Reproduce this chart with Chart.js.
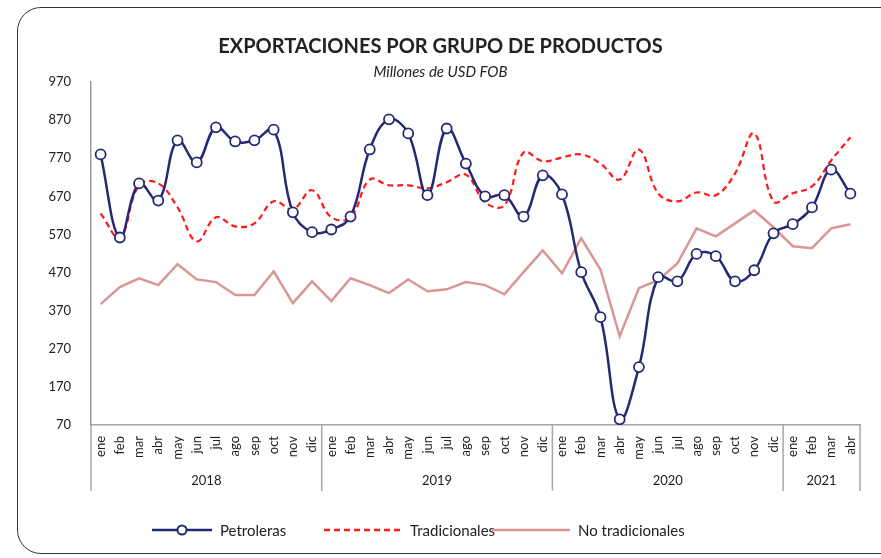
<!DOCTYPE html>
<html>
<head>
<meta charset="utf-8">
<script src="https://cdn.jsdelivr.net/npm/chart.js@4/dist/chart.umd.min.js"></script>
<style>
  body { margin: 0; background: #fff; font-family: Lato, "Open Sans", sans-serif; }
  #wrap { position: relative; width: 881px; height: 558px; overflow: hidden; }
  #frame { position: absolute; left: 17px; top: 7px; width: 900px; height: 547px;
           border: 1.6px solid #333; border-radius: 24px; box-sizing: border-box; }
  #title { position: absolute; left: 0; width: 881px; top: 33px; text-align: center;
           font-weight: bold; font-size: 20px; color: #222; }
  #subtitle { position: absolute; left: 0; width: 881px; top: 62px; text-align: center;
              font-style: italic; font-size: 15px; color: #222; }
  #chart { position: absolute; left: 0; top: 0; }
  .leg { position: absolute; top: 521px; font-size: 15px; color: #222; display: flex; align-items: center; }
  .leg svg { margin-right: 8px; }
</style>
</head>
<body>
<div id="wrap">
  <div id="frame"></div>
  <canvas id="chart" width="881" height="558"></canvas>
  <div id="title">EXPORTACIONES POR GRUPO DE PRODUCTOS</div>
  <div id="subtitle">Millones de USD FOB</div>
  <div class="leg" style="left:152px">
    <svg width="60" height="14"><line x1="0" y1="7" x2="60" y2="7" stroke="#232a72" stroke-width="2.5"/><circle cx="30" cy="7" r="4.5" fill="#fff" stroke="#232a72" stroke-width="2"/></svg>Petroleras
  </div>
  <div class="leg" style="left:324px">
    <svg width="78" height="14"><line x1="0" y1="7" x2="78" y2="7" stroke="#ff1a1a" stroke-width="2.5" stroke-dasharray="6,4"/></svg>Tradicionales
  </div>
  <div class="leg" style="left:492px">
    <svg width="78" height="14"><line x1="0" y1="7" x2="78" y2="7" stroke="#d99694" stroke-width="2.5"/></svg>No tradicionales
  </div>
</div>
<script>
// months and year groups
const months = ["ene","feb","mar","abr","may","jun","jul","ago","sep","oct","nov","dic"];
const years = ["2018", "2019", "2020", "2021"];
const monthsPerYear = [12, 12, 12, 4];
const labels = [];
years.forEach((y, i) => { for (let m = 0; m < monthsPerYear[i]; m++) labels.push(months[m]); });

// series (millones USD FOB)
const petroleras = [780, 562, 704, 659, 817, 759, 851, 814, 817, 845, 628, 576,
                    583, 617, 793, 872, 835, 673, 848, 756, 670, 673, 617, 725,
                    675, 471, 353, 85, 222, 458, 447, 519, 513, 447, 476, 573,
                    597, 641, 740, 677];
const tradicionales = [625, 562, 699, 704, 641, 552, 615, 591, 599, 657, 636, 686,
                       615, 615, 714, 699, 699, 691, 707, 727, 654, 646, 785, 762,
                       772, 780, 756, 714, 793, 678, 657, 680, 673, 730, 835, 657,
                       678, 696, 764, 825];
const noTradicionales = [387, 432, 455, 437, 492, 452, 445, 411, 411, 473, 390, 447,
                         395, 455, 437, 416, 452, 421, 426, 445, 437, 413, 471, 528,
                         468, 560, 478, 303, 429, 450, 494, 586, 565, 599, 633, 589,
                         539, 534, 586, 597];

const yMin = 70, yMax = 970, yStep = 100;

// draws year groups under the month labels
const yearGroups = {
  id: "yearGroups",
  afterDraw(chart) {
    const ctx = chart.ctx;
    const x = chart.scales.x;
    const area = chart.chartArea;
    const step = (area.right - area.left) / labels.length;
    ctx.save();
    ctx.strokeStyle = "#a6a6a6";
    ctx.lineWidth = 1.5;
    ctx.fillStyle = "#222";
    ctx.font = "13px Lato";
    ctx.textAlign = "center";
    ctx.textBaseline = "middle";
    let idx = 0;
    const edge = (i) => area.left + i * step;
    ctx.beginPath();
    ctx.moveTo(edge(0), area.bottom);
    ctx.lineTo(edge(0), area.bottom + 66);
    ctx.stroke();
    years.forEach((y, i) => {
      const end = idx + monthsPerYear[i];
      ctx.beginPath();
      ctx.moveTo(edge(end), area.bottom);
      ctx.lineTo(edge(end), area.bottom + 66);
      ctx.stroke();
      ctx.fillText(y, (edge(idx) + edge(end)) / 2, area.bottom + 56);
      idx = end;
    });
    ctx.restore();
  }
};

const ctx = document.getElementById("chart").getContext("2d");
const chart = new Chart(ctx, {
  type: "line",
  data: {
    labels: labels,
    datasets: [
      {
        label: "Petroleras",
        data: petroleras,
        borderColor: "#232a72",
        backgroundColor: "#fff",
        borderWidth: 2.5,
        pointRadius: 5,
        pointBorderWidth: 1.8,
        pointBackgroundColor: "#fff",
        pointBorderColor: "#232a72",
        tension: 0.4,
        order: 0
      },
      {
        label: "Tradicionales",
        data: tradicionales,
        borderColor: "#ff1a1a",
        borderWidth: 2.2,
        borderDash: [6, 4],
        pointRadius: 0,
        tension: 0.4,
        order: 1
      },
      {
        label: "No tradicionales",
        data: noTradicionales,
        borderColor: "#d99694",
        borderWidth: 2.5,
        pointRadius: 0,
        tension: 0,
        order: 2
      }
    ]
  },
  options: {
    responsive: false,
    animation: false,
    layout: { padding: { left: 0, right: 21, top: 82, bottom: 63 } },
    plugins: {
      legend: { display: false },
      tooltip: { enabled: false }
    },
    scales: {
      x: {
        offset: true,
        grid: { display: false },
        border: { display: true, color: "#a6a6a6", width: 1.5 },
        ticks: {
          autoSkip: false,
          minRotation: 90,
          maxRotation: 90,
          padding: 3,
          color: "#222",
          font: { family: "Lato", size: 13 }
        },
        afterFit(scale) { scale.height = 70; }
      },
      y: {
        min: yMin,
        max: yMax,
        grid: { display: false },
        border: { display: true, color: "#999", width: 1.5 },
        ticks: {
          stepSize: yStep,
          padding: 12,
          color: "#222",
          font: { family: "Lato", size: 13 }
        },
        afterFit(scale) { scale.width = 91; }
      }
    }
  },
  plugins: [yearGroups]
});
</script>
</body>
</html>
